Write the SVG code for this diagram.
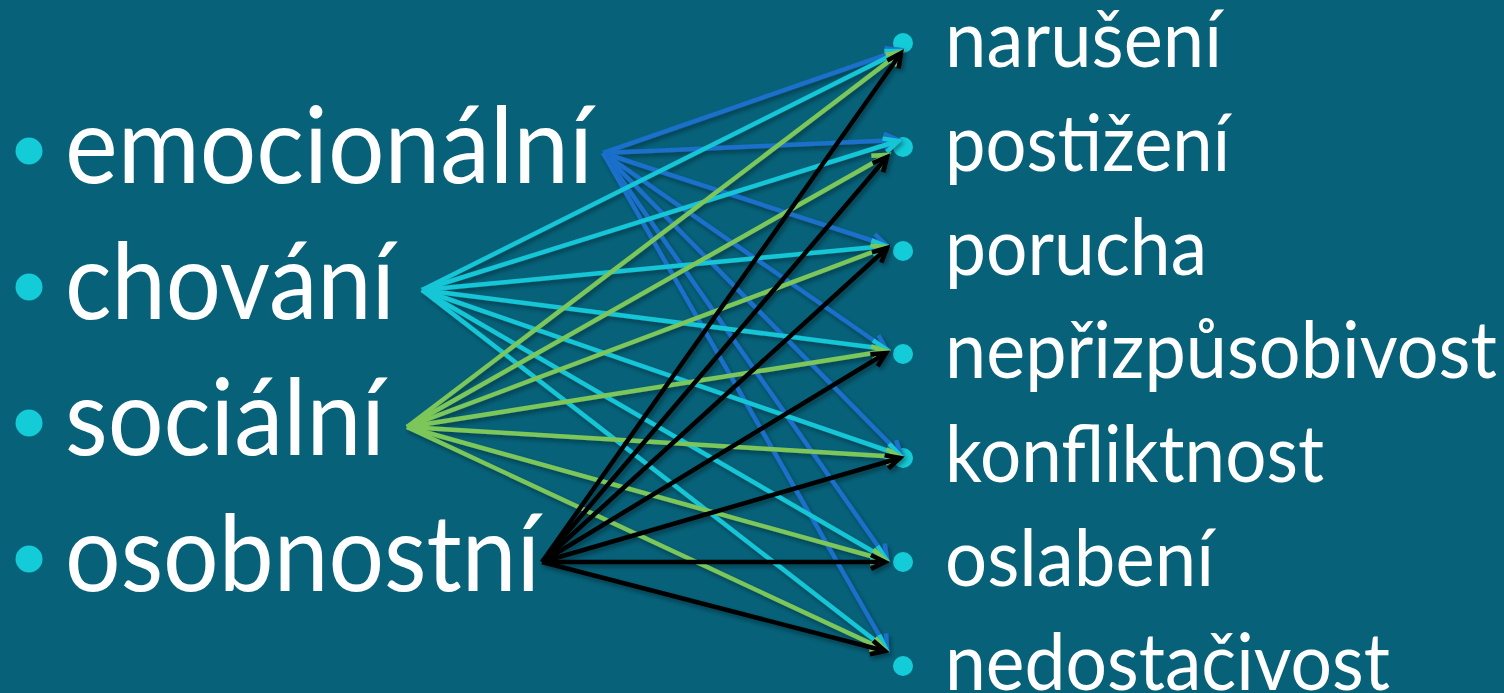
<svg xmlns="http://www.w3.org/2000/svg" width="1504" height="693" viewBox="0 0 1504 693">
  <defs>
    <style>
      .lt { font-family: Lato, "Open Sans", "Liberation Sans", sans-serif; font-size: 106px; fill: #ffffff; }
      .rt { font-family: Lato, "Open Sans", "Liberation Sans", sans-serif; font-size: 80px; fill: #ffffff; }
      .bul { fill: #14CBD8; }
      .c line { stroke-width: 4.5; fill: none; }
      .blue line { stroke: #1A6FC9; }
      .cyan line { stroke: #13C6D6; }
      .green line { stroke: #7CC65A; }
      .black line { stroke: #000000; }
    </style>
    <filter id="sh" x="-10%" y="-10%" width="120%" height="120%">
      <feDropShadow dx="2" dy="3" stdDeviation="2" flood-color="#000" flood-opacity="0.35"/>
    </filter>
    <marker id="mB" markerUnits="userSpaceOnUse" markerWidth="24" markerHeight="24" refX="15" refY="9" orient="auto" overflow="visible">
      <path d="M1,2 L15,9 L1,16" fill="none" stroke="#1A6FC9" stroke-width="4.5"/>
    </marker>
    <marker id="mC" markerUnits="userSpaceOnUse" markerWidth="24" markerHeight="24" refX="15" refY="9" orient="auto" overflow="visible">
      <path d="M1,2 L15,9 L1,16" fill="none" stroke="#13C6D6" stroke-width="4.5"/>
    </marker>
    <marker id="mG" markerUnits="userSpaceOnUse" markerWidth="24" markerHeight="24" refX="15" refY="9" orient="auto" overflow="visible">
      <path d="M1,2 L15,9 L1,16" fill="none" stroke="#7CC65A" stroke-width="4.5"/>
    </marker>
    <marker id="mK" markerUnits="userSpaceOnUse" markerWidth="24" markerHeight="24" refX="15" refY="9" orient="auto" overflow="visible">
      <path d="M1,2 L15,9 L1,16" fill="none" stroke="#000000" stroke-width="4.5"/>
    </marker>
  </defs>

  <rect x="0" y="0" width="1504" height="693" fill="#066179"/>

  <g id="left-emocionalni">
    <circle class="bul" cx="29" cy="151" r="13.5"/>
    <text class="lt" x="65" y="183" textLength="528" lengthAdjust="spacingAndGlyphs">emocionální</text>
  </g>
  <g id="left-chovani">
    <circle class="bul" cx="29" cy="287" r="13.5"/>
    <text class="lt" x="65" y="319" textLength="330" lengthAdjust="spacingAndGlyphs">chování</text>
  </g>
  <g id="left-socialni">
    <circle class="bul" cx="29" cy="423" r="13.5"/>
    <text class="lt" x="65" y="455" textLength="320" lengthAdjust="spacingAndGlyphs">sociální</text>
  </g>
  <g id="left-osobnostni">
    <circle class="bul" cx="29" cy="559" r="13.5"/>
    <text class="lt" x="65" y="591" textLength="475" lengthAdjust="spacingAndGlyphs">osobnostní</text>
  </g>

  <g id="right-naruseni">
    <circle class="bul" cx="903" cy="43" r="10"/>
    <text class="rt" x="945" y="67" textLength="277" lengthAdjust="spacingAndGlyphs">narušení</text>
  </g>
  <g id="right-postizeni">
    <circle class="bul" cx="903" cy="147" r="10"/>
    <text class="rt" x="945" y="171" textLength="285" lengthAdjust="spacingAndGlyphs">postižení</text>
  </g>
  <g id="right-porucha">
    <circle class="bul" cx="903" cy="251" r="10"/>
    <text class="rt" x="945" y="275" textLength="262" lengthAdjust="spacingAndGlyphs">porucha</text>
  </g>
  <g id="right-neprizpusobivost">
    <circle class="bul" cx="903" cy="354" r="10"/>
    <text class="rt" x="945" y="378" textLength="552" lengthAdjust="spacingAndGlyphs">nepřizpůsobivost</text>
  </g>
  <g id="right-konfliktnost">
    <circle class="bul" cx="903" cy="458" r="10"/>
    <text class="rt" x="945" y="482" textLength="379" lengthAdjust="spacingAndGlyphs">konfliktnost</text>
  </g>
  <g id="right-oslabeni">
    <circle class="bul" cx="903" cy="562" r="10"/>
    <text class="rt" x="945" y="586" textLength="269" lengthAdjust="spacingAndGlyphs">oslabení</text>
  </g>
  <g id="right-nedostacivost">
    <circle class="bul" cx="903" cy="666" r="10"/>
    <text class="rt" x="945" y="690" textLength="445" lengthAdjust="spacingAndGlyphs">nedostačivost</text>
  </g>

  <g id="connectors" class="c" filter="url(#sh)">
    <g class="blue" marker-end="url(#mB)">
      <line x1="603" y1="153" x2="900" y2="50"/>
      <line x1="603" y1="153" x2="898" y2="140"/>
      <line x1="603" y1="153" x2="886" y2="245"/>
      <line x1="603" y1="153" x2="886" y2="349"/>
      <line x1="603" y1="153" x2="901" y2="455"/>
      <line x1="603" y1="153" x2="887" y2="559"/>
      <line x1="603" y1="153" x2="887" y2="649"/>
    </g>
    <g class="cyan" marker-end="url(#mC)">
      <line x1="422" y1="290" x2="900" y2="51"/>
      <line x1="422" y1="290" x2="898" y2="141"/>
      <line x1="422" y1="290" x2="886" y2="246"/>
      <line x1="422" y1="290" x2="886" y2="349"/>
      <line x1="422" y1="290" x2="900" y2="455"/>
      <line x1="422" y1="290" x2="886" y2="559"/>
      <line x1="422" y1="290" x2="886" y2="649"/>
    </g>
    <g class="green" marker-end="url(#mG)">
      <line x1="407" y1="427" x2="901" y2="52"/>
      <line x1="407" y1="427" x2="887" y2="155"/>
      <line x1="407" y1="427" x2="886" y2="247"/>
      <line x1="407" y1="427" x2="886" y2="351"/>
      <line x1="407" y1="427" x2="900" y2="457"/>
      <line x1="407" y1="427" x2="885" y2="560"/>
      <line x1="407" y1="427" x2="885" y2="650"/>
    </g>
    <g class="black" marker-end="url(#mK)">
      <line x1="542" y1="562" x2="901" y2="53"/>
      <line x1="542" y1="562" x2="887" y2="157"/>
      <line x1="542" y1="562" x2="887" y2="248"/>
      <line x1="542" y1="562" x2="886" y2="353"/>
      <line x1="542" y1="562" x2="900" y2="458"/>
      <line x1="542" y1="562" x2="885" y2="562"/>
      <line x1="542" y1="562" x2="885" y2="651"/>
    </g>
  </g>
</svg>
